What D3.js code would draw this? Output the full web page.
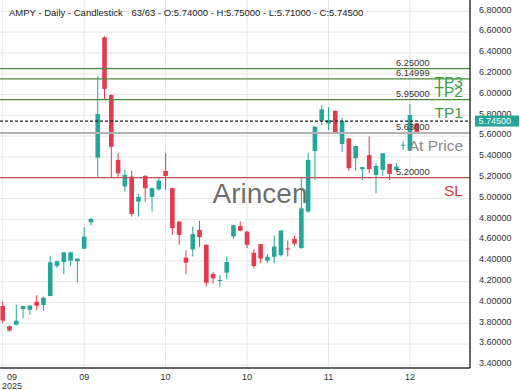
<!DOCTYPE html>
<html>
<head>
<meta charset="utf-8">
<script src="https://cdn.jsdelivr.net/npm/d3@7/dist/d3.min.js"></script>
<style>
  html, body { margin: 0; padding: 0; background: #fff; }
  svg { display: block; font-family: "Liberation Sans", Arial, sans-serif; }
</style>
</head>
<body>
<svg id="chart" width="520" height="390"></svg>
<script>
// ---- data ----
const opens  = [3.966,3.771,3.787,3.937,3.93,4.007,3.976,4.062,4.352,4.389,4.402,4.397,4.517,4.771,5.393,6.55,5.995,5.371,5.116,5.211,4.97,5.217,5.015,5.089,5.265,5.099,4.778,4.432,4.51,4.698,4.555,4.274,4.207,4.287,4.635,4.735,4.682,4.478,4.561,4.402,4.44,4.456,4.52,4.612,4.523,4.875,5.457,5.747,5.722,5.843,5.524,5.578,5.387,5.282,5.417,5.227,5.275,5.332,5.275,5.512,5.46,5.722];
const highs  = [4.01,3.78,3.98,3.97,3.975,4.07,4.056,4.447,4.402,4.487,4.487,4.422,4.724,4.81,6.18,6.56,6.0,5.437,5.277,5.267,5.045,5.227,5.105,5.207,5.437,5.105,4.785,4.502,4.73,4.785,4.56,4.292,4.262,4.442,4.75,4.78,4.69,4.512,4.565,4.462,4.645,4.695,4.595,4.645,5.197,5.437,5.697,5.897,5.877,5.847,5.777,5.582,5.507,5.307,5.597,5.337,5.437,5.337,5.342,5.547,5.907,5.727];
const lows   = [3.80,3.72,3.78,3.85,3.88,3.93,3.92,4.06,4.332,4.272,4.352,4.192,4.512,4.74,5.197,5.95,5.207,5.207,5.066,4.825,4.825,4.97,4.875,5.075,5.085,4.65,4.555,4.272,4.442,4.535,4.152,4.182,4.152,4.222,4.61,4.685,4.525,4.327,4.377,4.377,4.377,4.442,4.442,4.545,4.515,4.865,5.177,5.707,5.657,5.627,5.447,5.267,5.267,5.177,5.242,5.05,5.217,5.177,5.257,5.467,5.457,5.627];
const closes = [3.826,3.73,3.825,3.966,3.97,3.969,4.046,4.387,4.397,4.482,4.482,4.422,4.634,4.805,5.812,6.054,5.497,5.243,5.227,4.851,5.015,5.099,5.099,5.172,5.217,4.715,4.65,4.382,4.657,4.628,4.19,4.232,4.217,4.389,4.743,4.691,4.555,4.35,4.422,4.44,4.538,4.691,4.51,4.565,4.905,5.371,5.69,5.857,5.754,5.632,5.747,5.291,5.505,5.302,5.282,5.313,5.435,5.237,5.307,5.517,5.802,5.632];

const xTickIndex  = [0, 12, 24, 36, 48, 60];
const xTickLabels = ["09", "09", "10", "10", "11", "12"];
const yearLabel   = "2025";
const yTicks      = [3.4,3.6,3.8,4.0,4.2,4.4,4.6,4.8,5.0,5.2,5.4,5.6,5.8,6.0,6.2,6.4,6.6,6.8];

const levelValues = [6.25, 6.14999, 5.95, 5.63, 5.20];
const levelNames  = ["TP3", "TP2", "TP1", "At Price", "SL"];
const levelKinds  = ["tp", "tp", "tp", "entry", "sl"];
const currentPrice = 5.745;

const titleLeft  = "AMPY - Daily - Candlestick";
const titleRight = "63/63 - O:5.74000 - H:5.75000 - L:5.71000 - C:5.74500";
const watermark  = "Arincen";

// ---- layout ----
const W = 520, H = 390;
const plotR = 470, plotB = 368;
const svg = d3.select("#chart");

const x = d3.scaleLinear().domain([-0.4, 68.85]).range([0, plotR]);
const y = d3.scaleLinear().domain([3.37, 6.909]).range([plotB, 0]);
const fmt = d3.format(".5f");

const lineColor = { tp: "#4b8b3b", entry: "#b3b3b3", sl: "#c25252" };
const textColor = { tp: "#3f9b3f", entry: "#8a8a8a", sl: "#d33a3a" };
const upColor = "#26a69a", downColor = "#e23a4e";

// grid
const grid = svg.append("g");
grid.selectAll("line.h").data(yTicks).enter().append("line")
  .attr("x1", 0).attr("x2", plotR)
  .attr("y1", d => y(d)).attr("y2", d => y(d))
  .attr("stroke", "#e6e6e6").attr("stroke-width", 1);
grid.selectAll("line.v").data(xTickIndex).enter().append("line")
  .attr("x1", d => x(d)).attr("x2", d => x(d))
  .attr("y1", 0).attr("y2", plotB)
  .attr("stroke", "#e6e6e6").attr("stroke-width", 1);

// watermark
svg.append("text").attr("x", 260).attr("y", 203)
  .attr("text-anchor", "middle").attr("font-size", 28)
  .attr("fill", "#5a5a5a").attr("fill-opacity", 0.9).text(watermark);

// candles
const candles = d3.range(opens.length).map(i => ({ i, o: opens[i], h: highs[i], l: lows[i], c: closes[i] }));
const cg = svg.append("g");
const bw = 4.6;
cg.selectAll("line.wick").data(candles).enter().append("line")
  .attr("x1", d => x(d.i)).attr("x2", d => x(d.i))
  .attr("y1", d => y(d.h)).attr("y2", d => y(d.l))
  .attr("stroke", d => d.c >= d.o ? upColor : downColor).attr("stroke-width", 1);
cg.selectAll("rect").data(candles).enter().append("rect")
  .attr("x", d => x(d.i) - bw / 2).attr("width", bw)
  .attr("y", d => y(Math.max(d.o, d.c)))
  .attr("height", d => Math.max(1, Math.abs(y(d.o) - y(d.c))))
  .attr("fill", d => d.c >= d.o ? upColor : downColor);

// level lines
const lv = levelValues.map((v, k) => ({ v, name: levelNames[k], kind: levelKinds[k] }));
const lg = svg.append("g");
lg.selectAll("line").data(lv).enter().append("line")
  .attr("x1", 0).attr("x2", plotR)
  .attr("y1", d => y(d.v)).attr("y2", d => y(d.v))
  .attr("stroke", d => lineColor[d.kind])
  .attr("stroke-width", d => d.kind === "entry" ? 1.8 : 1.3);
// current price dotted
svg.append("line").attr("x1", 0).attr("x2", plotR)
  .attr("y1", y(currentPrice)).attr("y2", y(currentPrice))
  .attr("stroke", "#222").attr("stroke-width", 1.2).attr("stroke-dasharray", "3,2");

// level value labels
lg.selectAll("text.val").data(lv).enter().append("text")
  .attr("x", 396).attr("y", d => y(d.v) - 3)
  .attr("font-size", 9.3).attr("fill", "#333").text(d => fmt(d.v));
// level name labels
lg.selectAll("text.name").data(lv).enter().append("text")
  .attr("x", 463).attr("y", d => y(d.v) + 18)
  .attr("text-anchor", "end").attr("font-size", 15.5)
  .attr("fill", d => textColor[d.kind]).text(d => d.name);

// axes lines
svg.append("line").attr("x1", plotR).attr("x2", plotR).attr("y1", 0).attr("y2", plotB)
  .attr("stroke", "#333").attr("stroke-width", 1.5);
svg.append("line").attr("x1", 0).attr("x2", plotR).attr("y1", plotB).attr("y2", plotB)
  .attr("stroke", "#333").attr("stroke-width", 1.5);

// y tick labels
svg.append("g").selectAll("text").data(yTicks).enter().append("text")
  .attr("x", 479).attr("y", d => y(d) + 1.3)
  .attr("font-size", 9).attr("fill", "#333").text(d => fmt(d));

// x tick labels
svg.append("g").selectAll("text").data(xTickIndex).enter().append("text")
  .attr("x", d => Math.max(x(d), 12)).attr("y", 379.5)
  .attr("text-anchor", "middle").attr("font-size", 9).attr("fill", "#333")
  .text((d, k) => xTickLabels[k]);
svg.append("text").attr("x", Math.max(x(xTickIndex[0]), 12)).attr("y", 388.5)
  .attr("text-anchor", "middle").attr("font-size", 9).attr("fill", "#333").text(yearLabel);

// current price box
svg.append("rect").attr("x", 475).attr("y", y(currentPrice) - 5.5)
  .attr("width", 44).attr("height", 11).attr("fill", upColor);
svg.append("text").attr("x", 478.5).attr("y", y(currentPrice) + 3.3)
  .attr("font-size", 9).attr("fill", "#fff").text(fmt(currentPrice));

// title
svg.append("text").attr("x", 9).attr("y", 16).attr("font-size", 9.5).attr("fill", "#222").text(titleLeft);
svg.append("text").attr("x", 131.5).attr("y", 16).attr("font-size", 9.5).attr("fill", "#222").text(titleRight);
</script>
</body>
</html>
